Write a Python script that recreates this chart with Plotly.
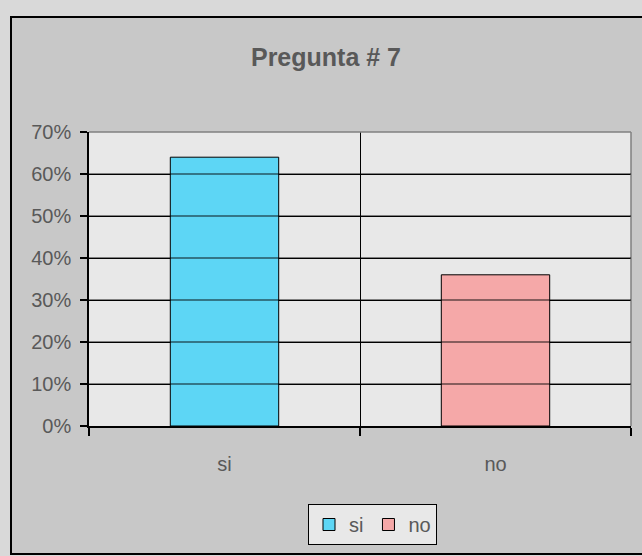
import plotly.graph_objects as go

categories = ["si", "no"]
values = [0.64, 0.36]
colors = ["#5dd6f5", "#f5a8a8"]
y_tickvals = [0, 0.1, 0.2, 0.3, 0.4, 0.5, 0.6, 0.7]
y_ticktext = ["0%", "10%", "20%", "30%", "40%", "50%", "60%", "70%"]
title_text = "Pregunta # 7"

FONT = "Liberation Sans, Arial, sans-serif"
TXT = "#595959"

fig = go.Figure()
for c, v, col in zip(categories, values, colors):
    fig.add_trace(go.Bar(
        x=[c], y=[v], name=c,
        marker=dict(color=col, line=dict(color="black", width=1)),
        hoverinfo="skip",
    ))

# plot area geometry in px (for paper-coordinate shapes)
L, R, T, B = 89, 11, 132, 130
W, H = 642, 556
pw, ph = W - L - R, H - T - B

def px_x(px):
    return (px - L) / pw

def px_y(py):
    return (H - B - py) / ph

shapes = [
    # chart frame
    dict(type="rect", xref="paper", yref="paper",
         x0=px_x(11), x1=px_x(650), y0=px_y(554), y1=px_y(17),
         fillcolor="#c8c8c8", line=dict(color="black", width=2), layer="below"),
    # plot background
    dict(type="rect", xref="paper", yref="paper", x0=0, x1=1, y0=0, y1=1,
         fillcolor="#e8e8e8", line=dict(width=0), layer="below"),
    # top and right borders of plot area
    dict(type="line", xref="paper", yref="paper", x0=0, x1=1, y0=1, y1=1,
         line=dict(color="#808080", width=1.5), layer="above"),
    dict(type="line", xref="paper", yref="paper", x0=1, x1=1, y0=0, y1=1,
         line=dict(color="#808080", width=1.5), layer="above"),
]
# gridlines showing through bars
for yv in y_tickvals[1:-1]:
    shapes.append(dict(type="line", xref="paper", yref="y", x0=0, x1=1, y0=yv, y1=yv,
                       line=dict(color="rgba(0,0,0,0.6)", width=1.3), layer="above"))

fig.update_layout(
    width=W, height=H,
    margin=dict(l=L, r=R, t=T, b=B, pad=0),
    paper_bgcolor="#d9d9d9",
    plot_bgcolor="rgba(0,0,0,0)",
    barmode="overlay",
    bargap=0.6,
    hovermode=False,
    font=dict(family=FONT, size=20, color=TXT),
    title=dict(text="<b>" + title_text + "</b>", x=326 / W,
               xanchor="center", y=1 - 57 / H, yanchor="middle",
               font=dict(family=FONT, size=25, color=TXT)),
    showlegend=True,
    legend=dict(orientation="h", x=px_x(308), xanchor="left", y=px_y(504), yanchor="top",
                bgcolor="#e8e8e8", bordercolor="black", borderwidth=1,
                font=dict(size=20, color=TXT), itemwidth=30, traceorder="normal",
                tracegroupgap=0, itemclick=False, itemdoubleclick=False),
    shapes=shapes,
    xaxis=dict(categoryorder="array", categoryarray=categories,
               showline=True, linecolor="black", linewidth=1.5,
               showgrid=True, gridcolor="black", gridwidth=1.3,
               tickson="boundaries", ticks="outside", ticklen=8, tickcolor="black", tickwidth=1.5,
               ticklabelstandoff=19, tickfont=dict(size=20, color=TXT), fixedrange=True),
    yaxis=dict(range=[0, 0.7], tickvals=y_tickvals, ticktext=y_ticktext,
               showline=True, linecolor="black", linewidth=1.5,
               showgrid=True, gridcolor="black", gridwidth=1.3, zeroline=False,
               ticks="outside", ticklen=7, tickcolor="black", tickwidth=1.5,
               ticklabelstandoff=5, tickfont=dict(size=20, color=TXT), fixedrange=True),
)

fig.write_html("out.html", config={"displayModeBar": False},
               post_script="document.body.style.margin='0';document.body.style.overflow='hidden';document.body.style.background='#d9d9d9';")
